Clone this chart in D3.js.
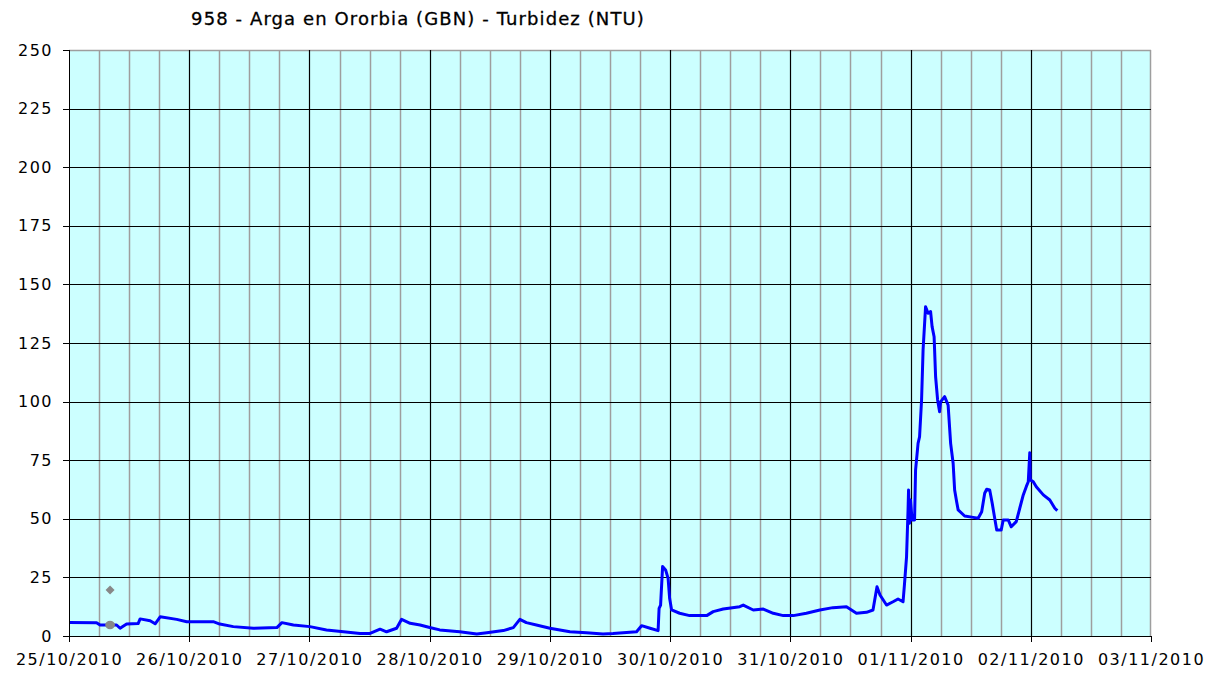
<!DOCTYPE html>
<html>
<head>
<meta charset="utf-8">
<script src="https://cdn.jsdelivr.net/npm/d3@7"></script>
<style>
  body { margin: 0; background: #fff; }
  .title { font-family: "DejaVu Sans", Verdana, sans-serif; font-size: 18px; fill: #000; letter-spacing: 1.1px; stroke: #000; stroke-width: 0.3px; }
  .axis text { font-family: "DejaVu Sans", Verdana, sans-serif; font-size: 16px; fill: #000; letter-spacing: 1.5px; }
  .axis path, .axis line { stroke: #000; shape-rendering: crispEdges; }
</style>
</head>
<body>
<div id="chart"></div>
<script>
// tick values
var startDate = new Date(2010, 9, 25);
var endDate = new Date(2010, 10, 3);
var yTicks = [0, 25, 50, 75, 100, 125, 150, 175, 200, 225, 250];

// turbidity series: hours since 25/10/2010 00:00 and NTU
var turbHours = [0, 5.5, 6.2, 9.5, 10.2, 11.5, 13.8, 14.2, 16.2, 17.2, 18.2, 21.5, 23.5, 28.8, 30.1, 32.8,
  36.8, 41.5, 42.5, 44.8, 48.1, 51.4, 54.8, 58.1, 60.1, 62.1, 63.4, 65.4, 66.4, 68.1, 70.1, 72.0,
  74.0, 78.0, 81.4, 83.4, 86.7, 88.7, 90.0, 91.3, 93.3, 96.0, 100.0, 103.3, 106.6, 108.6, 113.3,
  114.3, 116.0, 117.6, 117.8, 118.1, 118.5, 119.1, 119.6, 119.9, 120.3, 121.9, 123.9, 127.3, 128.6,
  130.6, 133.9, 134.6, 136.6, 138.6, 140.6, 142.6, 144.6, 147.2, 149.9, 152.5, 155.2, 157.2, 159.2,
  160.5, 161.3, 161.9, 163.2, 164.5, 165.5, 166.5, 166.8, 167.2, 167.5, 167.6, 167.8, 168.0, 168.3,
  168.8, 169.0, 169.5, 169.8, 170.2, 170.5, 171.0, 171.5, 172.0, 172.3, 172.7, 173.0, 173.4, 173.8,
  174.0, 174.8, 175.5, 176.0, 176.5, 176.8, 177.2, 177.5, 178.8, 180.5, 181.5, 182.2, 182.8, 183.2,
  183.8, 184.3, 184.8, 185.2, 186.1, 186.5, 187.5, 188.1, 189.1, 189.8, 190.5, 191.1, 191.5, 191.8,
  191.9, 192.5, 193.1, 194.5, 195.8, 196.8, 197.3];
var turbValues = [5.8, 5.7, 4.7, 4.7, 3.3, 5.1, 5.3, 7.3, 6.5, 5.2, 8.2, 7.1, 6.1, 6.1, 5.1, 4.0,
  3.3, 3.6, 5.7, 4.7, 4.0, 2.6, 1.8, 1.1, 1.1, 2.9, 1.8, 3.3, 7.1, 5.4, 4.7, 3.6,
  2.6, 1.8, 0.9, 1.4, 2.3, 3.6, 7.1, 5.7, 4.7, 3.3, 1.8, 1.4, 0.9, 1.1, 1.8,
  4.4, 3.3, 2.3, 11.8, 13.2, 29.6, 28.2, 24.6, 16.1, 11.1, 9.7, 8.7, 8.7, 10.4,
  11.5, 12.5, 13.2, 11.1, 11.5, 9.7, 8.7, 8.7, 9.7, 11.1, 12.1, 12.5, 9.7, 10.1,
  11.1, 21.0, 17.5, 13.2, 14.6, 15.8, 14.6, 22.5, 33.8, 53.8, 62.3, 48.1, 58, 49.5,
  49.5, 70.8, 82.2, 85, 100.7, 122, 140.5, 137.7, 138.4, 132, 127.7, 110.6, 100.7, 95.7,
  99.9, 102.1, 98.5, 82.2, 73.7, 62.3, 57.3, 53.8, 51.2, 50.6, 50.2, 53, 60.9, 62.6,
  62.3, 56.6, 50.2, 45.2, 45.2, 49.5, 49.5, 46.6, 48.8, 54.5, 60.2, 63.7, 65.8, 78.2,
  66.6, 65.8, 63.7, 60.2, 58, 54.5, 53.5];

// the two grey markers near the start
var markerHours = [8.2, 8.2];
var markerValues = [19.6, 4.7];
var markerShapes = ["diamond", "circle"];

var margin = {top: 50, right: 70, bottom: 41, left: 69},
    width = 1221 - margin.left - margin.right,
    height = 677 - margin.top - margin.bottom;

var x = d3.scaleTime().domain([startDate, endDate]).range([0, width]);
var y = d3.scaleLinear().domain([0, 250]).range([height, 0]);

function toDate(h) { return new Date(startDate.getTime() + h * 3600e3); }

var data = turbHours.map(function(h, i) { return {time: toDate(h), value: turbValues[i]}; });

var svg = d3.select("#chart").append("svg")
    .attr("width", 1221)
    .attr("height", 677);

svg.append("text")
   .attr("class", "title")
   .attr("x", 418)
   .attr("y", 25)
   .attr("text-anchor", "middle")
   .text("958 - Arga en Ororbia (GBN) - Turbidez (NTU)");

var g = svg.append("g")
    .attr("transform", "translate(" + margin.left + "," + margin.top + ")");

// plot background
g.append("rect")
 .attr("width", width)
 .attr("height", height)
 .attr("fill", "#ccffff");

// minor vertical gridlines every 6 hours
var sixHours = d3.timeHour.every(6).range(startDate, endDate).filter(function(d) { return d.getHours() !== 0; });
g.selectAll(".vminor")
  .data(sixHours)
  .enter().append("line")
  .attr("x1", function(d) { return Math.round(x(d)) + 0.5; })
  .attr("x2", function(d) { return Math.round(x(d)) + 0.5; })
  .attr("y1", 0)
  .attr("y2", height)
  .attr("stroke", "#9e9e9e")
  .attr("stroke-width", 1.5);

// top and right border
g.append("line").attr("x1", 0).attr("x2", width).attr("y1", 0.5).attr("y2", 0.5).attr("stroke", "#9e9e9e").attr("stroke-width", 1.5);
g.append("line").attr("x1", width - 0.5).attr("x2", width - 0.5).attr("y1", 0).attr("y2", height).attr("stroke", "#9e9e9e").attr("stroke-width", 1.5);

// major vertical gridlines on each day
var days = d3.timeDay.range(d3.timeDay.offset(startDate, 1), endDate);
g.selectAll(".vmajor")
  .data(days)
  .enter().append("line")
  .attr("x1", function(d) { return Math.round(x(d)) + 0.5; })
  .attr("x2", function(d) { return Math.round(x(d)) + 0.5; })
  .attr("y1", 0)
  .attr("y2", height)
  .attr("stroke", "#000")
  .attr("stroke-width", 1.2);

// horizontal gridlines
g.selectAll(".hgrid")
  .data(yTicks.filter(function(d) { return d > 0 && d < 250; }))
  .enter().append("line")
  .attr("x1", 0)
  .attr("x2", width)
  .attr("y1", function(d) { return Math.round(y(d)) + 0.5; })
  .attr("y2", function(d) { return Math.round(y(d)) + 0.5; })
  .attr("stroke", "#000")
  .attr("stroke-width", 1.2);

// turbidity line
var line = d3.line()
    .x(function(d) { return x(d.time); })
    .y(function(d) { return y(d.value); });

g.append("path")
 .datum(data)
 .attr("fill", "none")
 .attr("stroke", "#0000ff")
 .attr("stroke-width", 3)
 .attr("stroke-linejoin", "round")
 .attr("d", line);

// grey markers
markerHours.forEach(function(h, i) {
  var isDiamond = markerShapes[i] === "diamond";
  var sym = isDiamond ? d3.symbolSquare : d3.symbolCircle;
  var size = isDiamond ? 40 : 75;
  g.append("path")
   .attr("d", d3.symbol().type(sym).size(size)())
   .attr("transform", "translate(" + x(toDate(h)) + "," + y(markerValues[i]) + ")" + (isDiamond ? " rotate(45)" : " scale(1,0.85)"))
   .attr("fill", "#888");
});

// Add the X Axis
g.append("g")
 .attr("class", "axis")
 .attr("transform", "translate(0," + height + ")")
 .call(d3.axisBottom(x).ticks(d3.timeDay.every(1)).tickSize(6).tickPadding(12).tickFormat(d3.timeFormat("%d/%m/%Y")))
 .call(function(a) { a.select(".domain").attr("stroke-width", 1.5); });

// Add the Y Axis
g.append("g")
 .attr("class", "axis")
 .call(d3.axisLeft(y).tickValues(yTicks).tickSize(6).tickPadding(10))
 .call(function(a) { a.select(".domain").attr("stroke-width", 1.5); });
</script>
</body>
</html>
